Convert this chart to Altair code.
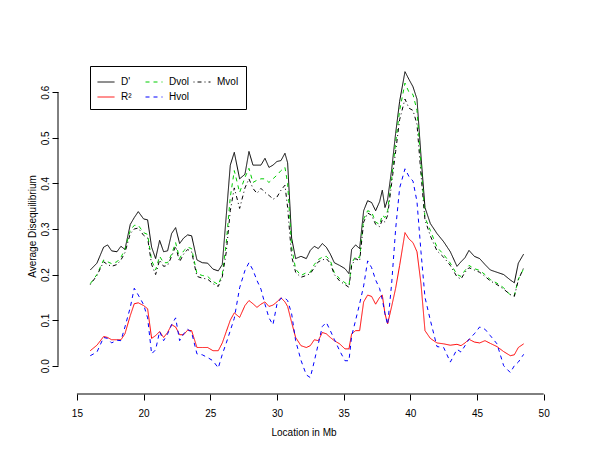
import altair as alt
import pandas as pd

location = [16.0, 16.5, 17.0, 17.3, 17.6, 18.0, 18.3, 18.6, 19.0, 19.3,
            19.6, 20.0, 20.3, 20.6, 20.9, 21.2, 21.5, 21.8, 22.1, 22.4,
            22.7, 23.0, 23.3, 23.6, 24.0, 24.4, 24.8, 25.2, 25.6, 25.9,
            26.2, 26.5, 26.8, 27.2, 27.6, 27.9, 28.2, 28.5, 28.8, 29.1,
            29.4, 29.7, 30.0, 30.3, 30.6, 30.8, 31.1, 31.4, 31.8, 32.2,
            32.5, 32.8, 33.1, 33.4, 33.7, 34.0, 34.3, 34.7, 35.1, 35.4,
            35.6, 35.9, 36.2, 36.5, 36.8, 37.1, 37.4, 37.7, 37.9, 38.1,
            38.3, 38.6, 38.9, 39.2, 39.6, 39.9, 40.2, 40.5, 40.8, 41.1,
            41.5, 42.0, 42.5, 43.0, 43.5, 43.8, 44.1, 44.4, 44.8, 45.2,
            45.6, 46.0, 46.5, 47.0, 47.5, 47.8, 48.1, 48.5]

d_prime = [0.21, 0.225, 0.26, 0.265, 0.252, 0.25, 0.262, 0.255, 0.31, 0.325,
           0.338, 0.322, 0.32, 0.26, 0.235, 0.275, 0.25, 0.252, 0.29, 0.303,
           0.268, 0.28, 0.287, 0.285, 0.232, 0.226, 0.225, 0.212, 0.208, 0.222,
           0.33, 0.44, 0.468, 0.41, 0.42, 0.47, 0.44, 0.44, 0.44, 0.455,
           0.435, 0.44, 0.448, 0.45, 0.466, 0.445, 0.28, 0.235, 0.24, 0.235,
           0.253, 0.262, 0.257, 0.268, 0.26, 0.245, 0.226, 0.22, 0.213, 0.202,
           0.255, 0.265, 0.257, 0.34, 0.362, 0.358, 0.34, 0.36, 0.385, 0.347,
           0.365, 0.43, 0.51, 0.58, 0.645, 0.628, 0.612, 0.585, 0.46, 0.347,
           0.312, 0.29, 0.272, 0.25, 0.218, 0.228, 0.237, 0.253, 0.24, 0.235,
           0.222, 0.21, 0.205, 0.2, 0.188, 0.182, 0.225, 0.245]

r_squared = [0.033, 0.045, 0.064, 0.062, 0.057, 0.057, 0.057, 0.07, 0.11, 0.136,
             0.138, 0.132, 0.125, 0.06, 0.066, 0.075, 0.062, 0.073, 0.09, 0.085,
             0.068, 0.068, 0.078, 0.077, 0.04, 0.04, 0.04, 0.033, 0.033, 0.05,
             0.075, 0.1, 0.116, 0.106, 0.132, 0.143, 0.136, 0.128, 0.135, 0.14,
             0.13, 0.133, 0.14, 0.149, 0.14, 0.13, 0.095, 0.062, 0.044, 0.04,
             0.044, 0.057, 0.055, 0.073, 0.07, 0.062, 0.055, 0.048, 0.037, 0.037,
             0.07, 0.077, 0.077, 0.14, 0.155, 0.152, 0.135, 0.15, 0.155, 0.114,
             0.092, 0.13, 0.17, 0.22, 0.292, 0.278, 0.27, 0.25, 0.18, 0.077,
             0.06, 0.05, 0.048, 0.045, 0.047, 0.044, 0.05, 0.058, 0.052, 0.05,
             0.055, 0.049, 0.042, 0.031, 0.022, 0.024, 0.04, 0.048]

dvol = [0.18, 0.2, 0.232, 0.228, 0.224, 0.228, 0.238, 0.255, 0.297, 0.308,
        0.308, 0.292, 0.288, 0.231, 0.21, 0.24, 0.226, 0.226, 0.245, 0.27,
        0.235, 0.252, 0.26, 0.257, 0.202, 0.198, 0.196, 0.185, 0.178, 0.2,
        0.27, 0.37, 0.428, 0.38, 0.413, 0.433, 0.402, 0.407, 0.41, 0.41,
        0.402, 0.41, 0.418, 0.428, 0.435, 0.4, 0.26, 0.212, 0.198, 0.204,
        0.205, 0.222, 0.233, 0.238, 0.24, 0.231, 0.204, 0.191, 0.182, 0.176,
        0.225, 0.24, 0.237, 0.322, 0.34, 0.337, 0.315, 0.31, 0.33, 0.325,
        0.34, 0.41, 0.49, 0.56, 0.62, 0.6, 0.595, 0.56, 0.44, 0.325,
        0.297, 0.26, 0.244, 0.225, 0.2, 0.196, 0.209, 0.22, 0.213, 0.209,
        0.2, 0.189, 0.181, 0.171, 0.155, 0.154, 0.19, 0.213]

hvol = [0.022, 0.03, 0.062, 0.06, 0.05, 0.056, 0.055, 0.085, 0.128, 0.17,
        0.155, 0.134, 0.105, 0.026, 0.035, 0.075, 0.055, 0.07, 0.09, 0.105,
        0.055, 0.07, 0.08, 0.073, 0.026, 0.024, 0.018, 0.011, -0.005, 0.025,
        0.05, 0.077, 0.104, 0.171, 0.209, 0.226, 0.21, 0.187, 0.168, 0.135,
        0.105, 0.09, 0.135, 0.148, 0.148, 0.143, 0.114, 0.055, 0.012, -0.02,
        -0.026, 0.01, 0.048, 0.086, 0.095, 0.077, 0.058, 0.033, 0.011, 0.011,
        0.065, 0.1, 0.136, 0.175, 0.23, 0.215, 0.188, 0.169, 0.145, 0.114,
        0.09, 0.18, 0.3, 0.39, 0.432, 0.415, 0.405, 0.36, 0.25, 0.15,
        0.1, 0.042, 0.04, 0.008, 0.036, 0.03, 0.044, 0.058, 0.07, 0.085,
        0.08, 0.066, 0.048, 0.0, -0.015, 0.0, 0.008, 0.025]

mvol = [0.178, 0.198, 0.228, 0.222, 0.218, 0.222, 0.232, 0.248, 0.29, 0.3,
        0.302, 0.286, 0.28, 0.222, 0.2, 0.232, 0.218, 0.22, 0.24, 0.262,
        0.228, 0.245, 0.255, 0.25, 0.196, 0.192, 0.19, 0.18, 0.174, 0.195,
        0.25, 0.34, 0.39, 0.345, 0.39, 0.41, 0.389, 0.378, 0.389, 0.38,
        0.374, 0.365, 0.37, 0.385, 0.396, 0.347, 0.24, 0.205, 0.194, 0.198,
        0.202, 0.215, 0.228, 0.232, 0.235, 0.225, 0.2, 0.186, 0.178, 0.172,
        0.22, 0.235, 0.23, 0.315, 0.335, 0.33, 0.31, 0.305, 0.32, 0.315,
        0.33, 0.4, 0.47, 0.54, 0.585, 0.565, 0.56, 0.53, 0.42, 0.32,
        0.285, 0.252, 0.238, 0.22, 0.195, 0.19, 0.205, 0.215, 0.21, 0.205,
        0.196, 0.186, 0.178, 0.168, 0.156, 0.152, 0.188, 0.215]

series_names = ["D'", "R\u00b2", "Dvol", "Hvol", "Mvol"]
series_colors = ["#000000", "#FF0000", "#00CD00", "#0000FF", "#000000"]
series_dashes = [[1, 0], [1, 0], [4, 4], [4, 4], [1, 3, 4, 3]]
series_values = [d_prime, r_squared, dvol, hvol, mvol]

x_ticks = [15, 20, 25, 30, 35, 40, 45, 50]
y_ticks = [0.0, 0.1, 0.2, 0.3, 0.4, 0.5, 0.6]

rows = []
for name, vals in zip(series_names, series_values):
    for xv, yv in zip(location, vals):
        rows.append({"Location": xv, "value": yv, "series": name})
df = pd.DataFrame(rows)

W, H = 491, 336
xscale = alt.Scale(domain=[13.58, 50.4], nice=False, zero=False)
yscale = alt.Scale(domain=[-0.062, 0.675], nice=False, zero=False)
FONT = "Liberation Sans"

x_axis = alt.Axis(values=x_ticks, domain=False, grid=False, tickSize=6,
                  tickColor="black", labelColor="black", labelFontSize=10,
                  labelFont=FONT, labelPadding=8, title="Location in Mb",
                  titleFont=FONT, titleFontSize=10, titleFontWeight="normal",
                  titleColor="black", titlePadding=9, labelFlush=False)
y_axis = alt.Axis(values=y_ticks, format=".1f", domain=False, grid=False,
                  tickSize=6, tickColor="black", labelColor="black",
                  labelFontSize=10, labelFont=FONT, labelAngle=270,
                  labelAlign="center", labelBaseline="bottom",
                  labelPadding=2, title="Average Disequilibrium",
                  titleFont=FONT, titleFontSize=10, titleFontWeight="normal",
                  titleColor="black", titlePadding=3, labelFlush=False)

lines = alt.Chart(df).mark_line(strokeWidth=1, clip=True).encode(
    x=alt.X("Location:Q", scale=xscale, axis=x_axis),
    y=alt.Y("value:Q", scale=yscale, axis=y_axis),
    color=alt.Color("series:N", scale=alt.Scale(domain=series_names, range=series_colors),
                    legend=alt.Legend(title=None, orient="none", legendX=32, legendY=8,
                                      columns=3, gridAlign="all", columnPadding=0,
                                      rowPadding=1, symbolType="stroke", symbolSize=289,
                                      symbolStrokeWidth=1, labelFont=FONT, labelFontSize=10,
                                      labelColor="black", labelOffset=6, padding=7,
                                      strokeColor="black", fillColor="white")),
    strokeDash=alt.StrokeDash("series:N", scale=alt.Scale(domain=series_names, range=series_dashes),
                              legend=None),
    detail="series:N",
)

xaxis_line = alt.Chart(pd.DataFrame({"Location": [x_ticks[0]], "Location_end": [x_ticks[-1]]})).mark_rule(
    color="black", strokeWidth=1).encode(
    x=alt.X("Location:Q", scale=xscale, axis=x_axis), x2="Location_end:Q", y=alt.value(H))

yaxis_line = alt.Chart(pd.DataFrame({"value": [y_ticks[0]], "value_end": [y_ticks[-1]]})).mark_rule(
    color="black", strokeWidth=1).encode(
    y=alt.Y("value:Q", scale=yscale, axis=y_axis), y2="value_end:Q", x=alt.value(0))

chart = alt.layer(lines, xaxis_line, yaxis_line).properties(
    width=W, height=H, background="white",
    autosize=alt.AutoSizeParams(type="none"),
    padding={"left": 50, "top": 50, "right": 40, "bottom": 62},
).configure_view(strokeWidth=0)

chart.save("out.html", embed_options={"renderer": "svg", "actions": False})
